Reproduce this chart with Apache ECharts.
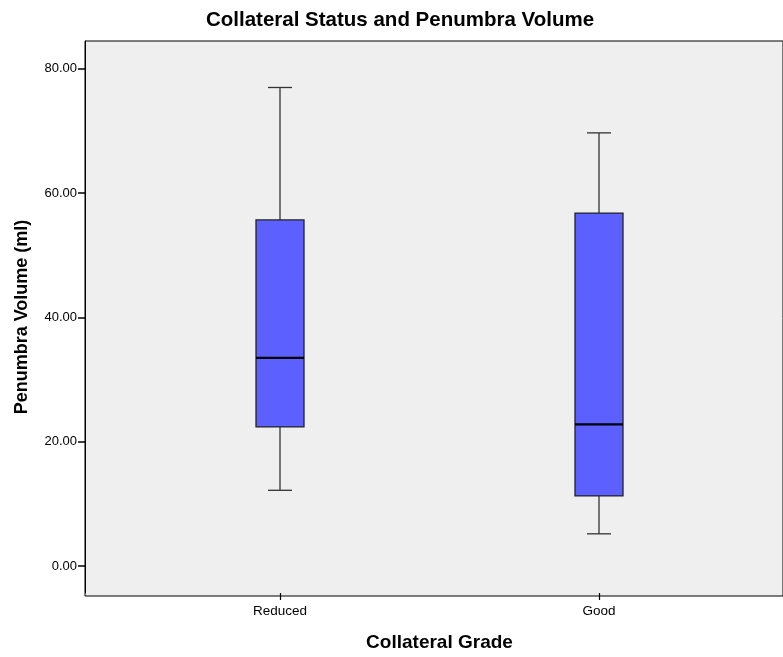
<!DOCTYPE html>
<html>
<head>
<meta charset="utf-8">
<style>
  html, body { margin: 0; padding: 0; background: #ffffff; }
  #chart { width: 783px; height: 657px; }
</style>
<script src="https://cdn.jsdelivr.net/npm/echarts@6/dist/echarts.min.js"></script>
</head>
<body>
<div id="chart"></div>
<script>
// Collateral grade groups and their five-number summaries (ml)
const categories = ['Reduced', 'Good'];
const whiskerLow = [12.2, 5.2];
const quartile1 = [22.4, 11.3];
const medians = [33.5, 22.8];
const quartile3 = [55.7, 56.8];
const whiskerHigh = [77.0, 69.7];
const yTicks = [0, 20, 40, 60, 80];

const boxData = categories.map((c, i) => [
  i, whiskerLow[i], quartile1[i], medians[i], quartile3[i], whiskerHigh[i]
]);

const FONT = '"Liberation Sans", Arial, sans-serif';

function renderBox(params, api) {
  const x = api.value(0);
  const pLow = api.coord([x, api.value(1)]);
  const pQ1 = api.coord([x, api.value(2)]);
  const pMed = api.coord([x, api.value(3)]);
  const pQ3 = api.coord([x, api.value(4)]);
  const pHigh = api.coord([x, api.value(5)]);
  const cx = pMed[0];
  const halfBox = 24;
  const halfCap = 12;
  const whiskerStyle = { stroke: '#333333', lineWidth: 1.3 };
  return {
    type: 'group',
    children: [
      { type: 'line', shape: { x1: cx, y1: pHigh[1], x2: cx, y2: pQ3[1] }, style: whiskerStyle },
      { type: 'line', shape: { x1: cx, y1: pQ1[1], x2: cx, y2: pLow[1] }, style: whiskerStyle },
      { type: 'line', shape: { x1: cx - halfCap, y1: pHigh[1], x2: cx + halfCap, y2: pHigh[1] }, style: whiskerStyle },
      { type: 'line', shape: { x1: cx - halfCap, y1: pLow[1], x2: cx + halfCap, y2: pLow[1] }, style: whiskerStyle },
      {
        type: 'rect',
        shape: { x: cx - halfBox, y: pQ3[1], width: halfBox * 2, height: pQ1[1] - pQ3[1] },
        style: { fill: '#5c60ff', stroke: '#222222', lineWidth: 1.3 }
      },
      { type: 'line', shape: { x1: cx - halfBox, y1: pMed[1], x2: cx + halfBox, y2: pMed[1] }, style: { stroke: '#000000', lineWidth: 2.4 } }
    ]
  };
}

const chart = echarts.init(document.getElementById('chart'), null, { renderer: 'canvas' });
chart.setOption({
  backgroundColor: '#ffffff',
  animation: false,
  title: {
    text: 'Collateral Status and Penumbra Volume',
    left: 201,
    top: 5,
    textStyle: { fontFamily: FONT, fontSize: 20.5, fontWeight: 'bold', color: '#000000' }
  },
  grid: [
    // data area
    { left: 120.5, right: 24.5, top: 41, bottom: 61, containLabel: false },
    // framed plot background
    { left: 85, right: -12, top: 41, bottom: 61, show: true, backgroundColor: '#efefef', borderColor: '#000000', borderWidth: 1 }
  ],
  xAxis: [
    {
      type: 'category',
      gridIndex: 0,
      data: categories,
      boundaryGap: true,
      axisLine: { show: false, onZero: false },
      axisTick: { show: true, alignWithLabel: true, length: 7, lineStyle: { color: '#000000', width: 1.2 } },
      axisLabel: { fontFamily: FONT, fontSize: 13.5, color: '#000000', margin: 11 },
      splitLine: { show: false },
      name: 'Collateral Grade',
      nameLocation: 'middle',
      nameGap: 40,
      nameTextStyle: { fontFamily: FONT, fontSize: 19, fontWeight: 'bold', color: '#000000' }
    },
    { type: 'value', gridIndex: 1, show: false, min: 0, max: 1 }
  ],
  yAxis: [
    {
      type: 'value',
      gridIndex: 0,
      min: -4.32,
      max: 84.48,
      offset: 35.5,
      axisLine: { show: true, onZero: false, lineStyle: { color: '#000000', width: 1 } },
      axisTick: { show: true, length: 7, customValues: yTicks, lineStyle: { color: '#000000', width: 1.5 } },
      axisLabel: {
        fontFamily: FONT, fontSize: 13, color: '#000000', margin: 8,
        customValues: yTicks,
        formatter: v => v.toFixed(2)
      },
      splitLine: { show: false },
      name: 'Penumbra Volume (ml)',
      nameLocation: 'middle',
      nameGap: 54,
      nameTextStyle: { fontFamily: FONT, fontSize: 18, fontWeight: 'bold', color: '#000000' }
    },
    { type: 'value', gridIndex: 1, show: false, min: 0, max: 1 }
  ],
  series: [
    {
      type: 'custom',
      xAxisIndex: 0,
      yAxisIndex: 0,
      renderItem: renderBox,
      encode: { x: 0, y: [1, 2, 3, 4, 5] },
      data: boxData,
      z: 5
    }
  ]
});
</script>
</body>
</html>
